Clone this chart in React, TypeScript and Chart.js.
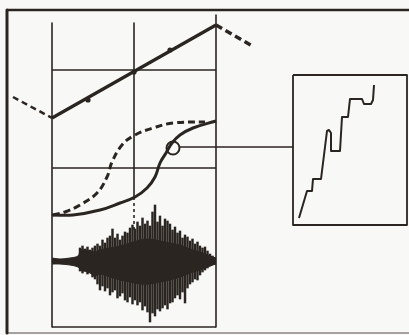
import React, { useEffect, useRef } from "react";
import { Chart, registerables } from "chart.js";
Chart.register(...registerables);

const INK = "#2b2521";
const BG = "#f8f8f6";

// Frame and grid (diagram units = picture pixels, y downward)
const frameLeftX = [7, 7];
const frameLeftY = [10, 333];
const frameTopX = [7, 409];
const frameTopY = [10, 10];
const frameBottomX = [7, 409];
const frameBottomY = [333, 333];

const gridVX = [52, 134, 216];
const gridVTop = [23, 23, 15];
const gridVBottom = [327, 197, 327];
const gridHY = [70, 168, 327];
const gridHLeft = 52;
const gridHRight = 216;
const midDashX = [134, 134];
const midDashY = [197, 233];

// Top V-shaped line
const vDashLX = [13, 52];
const vDashLY = [97, 118];
const vSolidX = [52, 216];
const vSolidY = [118, 25];
const vDashRX = [216, 254];
const vDashRY = [25, 47];
const vDotsX = [88, 134, 170];
const vDotsY = [100, 72, 50];

// S-curves
const solidSX = [52, 73, 100, 120, 135, 147, 155, 160, 166, 172, 180, 193, 216];
const solidSY = [215, 215, 210, 203, 197, 188, 177, 163, 153, 143, 135, 128, 121];
const dashedSX = [53, 65, 80, 97, 107, 112, 122, 135, 153, 173, 205];
const dashedSY = [215, 212, 205, 193, 177, 162, 145, 135, 128, 123, 122];

// Circle marker + connector
const markerX = [173];
const markerY = [148];
const connectorX = [180, 293];
const connectorY = [147, 147];

// Inset box
const insetX = [293, 407, 407, 293, 293];
const insetY = [75, 75, 225, 225, 75];
const stairX = [299, 307, 312, 313, 321, 325, 327, 329, 331, 331, 340, 342, 348, 350, 362, 364, 371, 373, 374];
const stairY = [218, 191, 191, 179, 179, 147, 131, 130, 133, 151, 151, 117, 117, 99, 99, 104, 104, 100, 85];

// Seismogram
const coreX = [52, 60, 70, 78, 81, 90, 95, 100, 110, 120, 130, 140, 150, 160, 170, 180, 190, 200, 210, 216];
const coreTop = [258, 259, 258, 256, 250, 251, 252, 250, 248, 246, 243, 240, 239, 241, 243, 245, 249, 252, 256, 258];
const coreBottom = [264, 264, 265, 267, 270, 273, 276, 274, 277, 280, 282, 284, 284, 282, 280, 277, 273, 270, 266, 264];
const seisX = [80, 82.5, 85, 87.5, 90, 92.5, 95, 97.5, 100, 102.5, 105, 107.5, 110, 112.5, 115, 117.5, 120, 122.5, 125, 127.5, 130, 132.5, 135, 137.5, 140, 142.5, 145, 147.5, 150, 152.5, 155, 157.5, 160, 162.5, 165, 167.5, 170, 172.5, 175, 177.5, 180, 182.5, 185, 187.5, 190, 192.5, 195, 197.5, 200, 202.5, 205, 207.5, 210, 212.5];
const seisTop = [248, 246, 249, 247, 250, 248, 246, 244, 246, 240, 243, 238, 236, 229, 238, 234, 240, 236, 232, 233, 228, 225, 229, 222, 226, 218, 224, 221, 226, 212, 205, 222, 216, 226, 219, 221, 224, 230, 227, 233, 231, 238, 235, 237, 241, 239, 244, 242, 246, 248, 247, 251, 254, 256];
const seisBottom = [271, 273, 270, 274, 272, 277, 279, 284, 290, 286, 291, 288, 295, 292, 290, 298, 296, 293, 300, 302, 297, 304, 300, 305, 302, 310, 306, 312, 322, 313, 316, 309, 311, 308, 305, 309, 303, 302, 298, 295, 299, 292, 303, 288, 284, 282, 279, 280, 275, 272, 270, 268, 266, 264];

const pts = (xs: number[], ys: number[]) => xs.map((x, i) => ({ x, y: ys[i] }));

function line(data: any[], width: number, dash: number[] = [], tension = 0, color = INK) {
  return {
    type: "line" as const,
    data,
    borderColor: color,
    borderWidth: width,
    borderDash: dash,
    pointRadius: 0,
    tension,
    fill: false,
    clip: false as any,
    borderCapStyle: "butt" as const,
    borderJoinStyle: "round" as const,
  };
}

export default function App() {
  const ref = useRef<HTMLCanvasElement | null>(null);
  useEffect(() => {
    document.body.style.margin = "0";
    document.body.style.background = BG;
    const datasets: any[] = [];
    // frame
    datasets.push(line(pts(frameLeftX, frameLeftY), 3));
    datasets.push(line(pts(frameTopX, frameTopY), 2.5));
    datasets.push(line(pts(frameBottomX, frameBottomY), 1.5, [], 0, "#8a8580"));
    // grid
    gridVX.forEach((x, i) => datasets.push(line(pts([x, x], [gridVTop[i], gridVBottom[i]]), 1.6)));
    gridHY.forEach((y) => datasets.push(line(pts([gridHLeft, gridHRight], [y, y]), 1.6)));
    datasets.push(line(pts(midDashX, midDashY), 1.6, [3, 3]));
    // V line
    datasets.push(line(pts(vDashLX, vDashLY), 2.5, [6, 4]));
    datasets.push(line(pts(vSolidX, vSolidY), 3.2));
    datasets.push(line(pts(vDashRX, vDashRY), 3.5, [7, 4]));
    datasets.push({
      type: "scatter",
      data: pts(vDotsX, vDotsY),
      pointRadius: 2.6,
      pointBackgroundColor: INK,
      pointBorderWidth: 0,
      showLine: false,
      clip: false,
    });
    // S curves
    datasets.push(line(pts(solidSX, solidSY), 3, [], 0.4));
    datasets.push(line(pts(dashedSX, dashedSY), 3, [7, 4], 0.4));
    // marker + connector
    datasets.push({
      type: "scatter",
      data: pts(markerX, markerY),
      pointRadius: 6.5,
      pointBackgroundColor: "rgba(0,0,0,0)",
      pointBorderColor: INK,
      pointBorderWidth: 2,
      showLine: false,
      clip: false,
    });
    datasets.push(line(pts(connectorX, connectorY), 1.6));
    // inset
    datasets.push(line(pts(insetX, insetY), 1.8));
    datasets.push(line(pts(stairX, stairY), 2));
    // seismogram core
    datasets.push({
      type: "line",
      data: pts(coreX, coreTop),
      borderColor: INK,
      borderWidth: 1,
      pointRadius: 0,
      tension: 0.3,
      fill: "+1",
      backgroundColor: INK,
      clip: false,
    });
    datasets.push({
      type: "line",
      data: pts(coreX, coreBottom),
      borderColor: INK,
      borderWidth: 1,
      pointRadius: 0,
      tension: 0.3,
      fill: false,
      clip: false,
    });
    datasets.push(line(pts([52, 216], [261, 261]), 2));
    // seismogram spikes
    datasets.push({
      type: "bar",
      data: seisX.map((x, i) => ({ x, y: [seisTop[i], seisBottom[i]] })),
      backgroundColor: INK,
      borderWidth: 0,
      barThickness: 1.8,
      clip: false,
    });

    const chart = new Chart(ref.current!, {
      type: "line",
      data: { datasets },
      options: {
        animation: false,
        responsive: false,
        devicePixelRatio: 1,
        events: [],
        layout: { padding: 0, autoPadding: false },
        plugins: { legend: { display: false }, tooltip: { enabled: false } },
        scales: {
          x: { type: "linear", min: 0, max: 409, display: false, offset: false },
          y: { type: "linear", min: 0, max: 335, reverse: true, display: false },
        },
      },
    } as any);
    return () => chart.destroy();
  }, []);
  return (
    <div style={{ width: 409, height: 335, background: BG }}>
      <canvas ref={ref} width={409} height={335} />
    </div>
  );
}
